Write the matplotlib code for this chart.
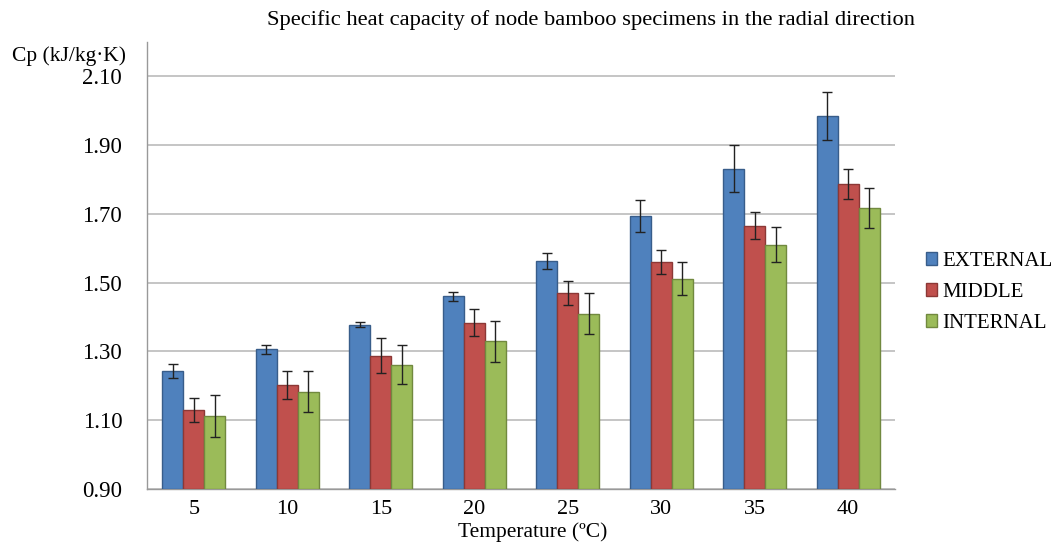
import matplotlib
matplotlib.use("Agg")
import matplotlib.pyplot as plt
import numpy as np

temps = ["5", "10", "15", "20", "25", "30", "35", "40"]
series = ["EXTERNAL", "MIDDLE", "INTERNAL"]
external = [1.243, 1.307, 1.378, 1.460, 1.562, 1.693, 1.832, 1.985]
middle = [1.130, 1.203, 1.288, 1.384, 1.470, 1.560, 1.666, 1.788]
internal = [1.113, 1.183, 1.262, 1.329, 1.410, 1.511, 1.611, 1.716]
err_external = [0.020, 0.013, 0.008, 0.014, 0.023, 0.047, 0.068, 0.071]
err_middle = [0.036, 0.041, 0.050, 0.039, 0.035, 0.036, 0.040, 0.044]
err_internal = [0.061, 0.059, 0.057, 0.061, 0.060, 0.048, 0.050, 0.058]
yticks = [0.90, 1.10, 1.30, 1.50, 1.70, 1.90, 2.10]

colors = ["#4F81BD", "#C0504D", "#9BBB59"]
edges = ["#385D8A", "#8C3836", "#71893F"]

plt.rcParams['font.family'] = ['Liberation Serif', 'DejaVu Serif']

fig = plt.figure(figsize=(10.59, 5.49), dpi=100)
ax = fig.add_axes([0.139, 0.1093, 0.706, 0.8142])

x = np.arange(len(temps))
w = 0.225
data = [external, middle, internal]
errs = [err_external, err_middle, err_internal]
for i, (vals, e) in enumerate(zip(data, errs)):
    ax.bar(x + (i - 1) * w, np.array(vals) - 0.90, width=w, bottom=0.90,
           color=colors[i], edgecolor=edges[i], linewidth=1.0, label=series[i], zorder=3)
    ax.errorbar(x + (i - 1) * w, vals, yerr=e, fmt='none', ecolor='#222222',
                elinewidth=1.0, capsize=3.5, capthick=1.0, zorder=4)

ax.set_xlim(-0.5, len(temps) - 0.5)
ax.set_ylim(0.90, 2.20)
ax.set_yticks(yticks)
ax.set_yticklabels([f"{t:.2f}" for t in yticks], fontsize=16.5)
ax.set_xticks(x)
ax.set_xticklabels(temps, fontsize=16)
ax.tick_params(axis='y', length=0, pad=18)
ax.tick_params(axis='x', length=0, pad=8)
ax.yaxis.grid(True, color='#BBBBBB', linewidth=1.2, zorder=0)
ax.set_axisbelow(True)
for s in ['top', 'right']:
    ax.spines[s].set_visible(False)
for s in ['left', 'bottom']:
    ax.spines[s].set_color('#999999')
    ax.spines[s].set_linewidth(1.0)

ax.set_xlabel("Temperature (ºC)", fontsize=15.5, va='top')
ax.xaxis.set_label_coords(0.516, -0.075)
fig.text(0.011, 0.898, "Cp (kJ/kg·K)", fontsize=15.5, ha='left', va='center')
fig.text(0.558, 0.982, "Specific heat capacity of node bamboo specimens in the radial direction",
         fontsize=16.2, ha='center', va='top')

leg = ax.legend(loc='center left', bbox_to_anchor=(1.03, 0.44), frameon=False,
                fontsize=15, handlelength=0.55, handleheight=0.55, handletextpad=0.25,
                labelspacing=0.58, borderaxespad=0)

fig.savefig("out.png", dpi=100, facecolor='white')
